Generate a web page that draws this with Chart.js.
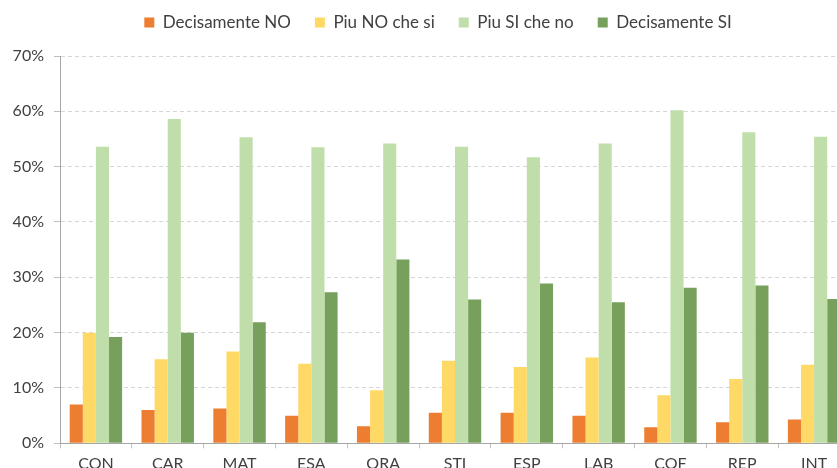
<!DOCTYPE html>
<html>
<head>
<meta charset="utf-8">
<script src="https://cdn.jsdelivr.net/npm/chart.js@4.4.0/dist/chart.umd.min.js"></script>
<style>
  html, body { margin: 0; padding: 0; background: #fff; overflow: hidden; }
  #wrap { width: 837px; height: 468px; overflow: hidden; position: relative; }
  #box { position: absolute; left: 0; top: -10px; width: 874px; height: 500px; }
</style>
</head>
<body>
<div id="wrap"><div id="box"><canvas id="chart"></canvas></div></div>
<script>
// categories and series (percent)
const categories = ['CON', 'CAR', 'MAT', 'ESA', 'ORA', 'STI', 'ESP', 'LAB', 'COF', 'REP', 'INT'];
const decisamenteNo = [7.0, 6.0, 6.3, 5.0, 3.1, 5.5, 5.5, 5.0, 2.9, 3.8, 4.3];
const piuNoCheSi    = [20.0, 15.2, 16.6, 14.4, 9.6, 14.9, 13.8, 15.5, 8.7, 11.6, 14.2];
const piuSiCheNo    = [53.6, 58.6, 55.3, 53.5, 54.2, 53.6, 51.7, 54.2, 60.2, 56.2, 55.4];
const decisamenteSi = [19.2, 20.0, 21.9, 27.3, 33.2, 26.0, 28.9, 25.5, 28.1, 28.5, 26.1];
const seriesNames = ['Decisamente NO', 'Piu NO che si', 'Piu SI che no', 'Decisamente SI'];
const seriesColors = ['#ED7D31', '#FFD966', '#C0DEAA', '#76A05B'];

const FONT = 'Lato, "DejaVu Sans", sans-serif';
const TEXT = '#404040';

const seriesData = [decisamenteNo, piuNoCheSi, piuSiCheNo, decisamenteSi];

// nudge the legend a little to the right (it is centred on the whole plot in the original)
const legendShift = {
  id: 'legendShift',
  afterLayout(chart) {
    const lg = chart.legend;
    if (!lg) return;
    lg.left += 13;
    lg.right += 13;
  }
};

new Chart(document.getElementById('chart'), {
  type: 'bar',
  data: {
    labels: categories,
    datasets: seriesNames.map((name, i) => ({
      label: name,
      data: seriesData[i],
      backgroundColor: seriesColors[i],
      borderWidth: 0,
      barPercentage: 1,
      categoryPercentage: 0.73
    }))
  },
  options: {
    responsive: true,
    maintainAspectRatio: false,
    animation: false,
    layout: { padding: { top: 0, right: 24, bottom: 0, left: 0 } },
    scales: {
      x: {
        grid: { display: true, drawOnChartArea: false, offset: true, tickLength: 5, color: '#BFBFBF' },
        border: { display: true, color: '#A6A6A6', width: 1 },
        ticks: { color: TEXT, font: { family: FONT, size: 16 }, padding: 6, maxRotation: 0 },
        afterFit: s => { s.height = 46.7; }
      },
      y: {
        min: 0,
        max: 70,
        ticks: { stepSize: 10, color: TEXT, font: { family: FONT, size: 16 }, padding: 10, callback: v => v + '%' },
        grid: { color: '#D6D6D6', tickLength: 6, tickColor: '#BFBFBF' },
        border: { display: true, color: '#A6A6A6', width: 1, dash: [4, 3] },
        afterFit: s => { s.width = 60; }
      }
    },
    plugins: {
      legend: {
        position: 'top',
        weight: 1000,
        labels: {
          color: TEXT,
          font: { family: FONT, size: 17 },
          boxWidth: 10,
          boxHeight: 10,
          padding: 24
        }
      },
      // empty title used only as a spacer between legend and plot
      title: {
        display: true,
        text: '',
        position: 'top',
        weight: 0,
        padding: 0,
        font: { size: 10, lineHeight: 1.5 }
      },
      tooltip: { enabled: false }
    }
  },
  plugins: [legendShift]
});
</script>
</body>
</html>
